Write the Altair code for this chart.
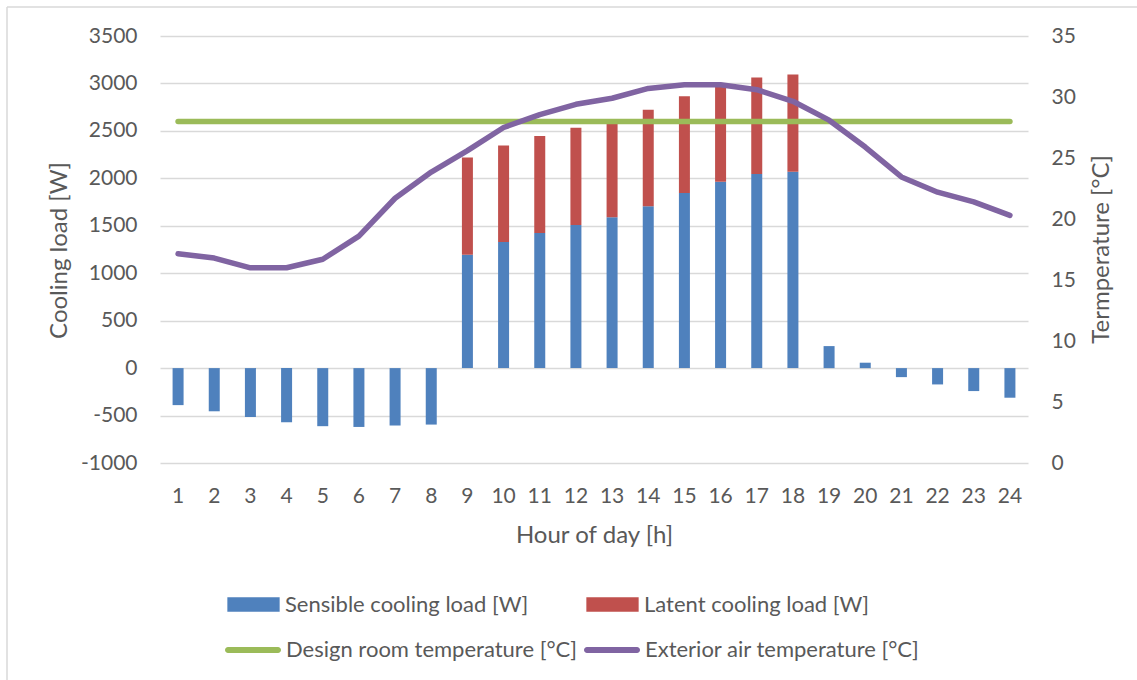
import altair as alt
import pandas as pd

# ---- data ----
hours = list(range(1, 25))
sensible = [-390, -455, -515, -570, -612, -620, -605, -595,
            1195, 1330, 1425, 1507, 1590, 1705, 1845, 1965, 2045, 2070,
            232, 57, -95, -172, -242, -312]
latent = [0, 0, 0, 0, 0, 0, 0, 0,
          1025, 1017, 1020, 1026, 1000, 1018, 1021, 1020, 1018, 1025,
          0, 0, 0, 0, 0, 0]
exterior = [17.15, 16.8, 16.0, 16.0, 16.7, 18.6, 21.7, 23.85, 25.6, 27.5,
            28.55, 29.4, 29.9, 30.7, 31.0, 31.0, 30.6, 29.65, 28.1, 25.9,
            23.45, 22.2, 21.4, 20.3]
design = [28] * 24

series_names = ["Sensible cooling load [W]", "Latent cooling load [W]",
                "Design room temperature [°C]", "Exterior air temperature [°C]"]
series_colors = ["#4F81BD", "#C0504D", "#9BBB59", "#8064A2"]
left_ticks = list(range(-1000, 3501, 500))
right_ticks = list(range(0, 36, 5))

df = pd.DataFrame({
    "hour": hours,
    "sensible": sensible,
    "latent": latent,
    "total": [s + l for s, l in zip(sensible, latent)],
    "exterior": exterior,
    "design": design,
    "s_name": series_names[0],
    "l_name": series_names[1],
    "d_name": series_names[2],
    "e_name": series_names[3],
})

FONT = "Lato"
TXT = "#595959"

x_enc = alt.X("hour:O", scale=alt.Scale(paddingInner=0, paddingOuter=0),
              axis=alt.Axis(labelAngle=0, title="Hour of day [h]",
                            labelBaseline="alphabetic", labelPadding=39,
                            titleX=434, titleY=79, titleBaseline="alphabetic",
                            titleAnchor="middle"))

left_scale = alt.Scale(domain=[-1000, 3500], nice=False, zero=False)
right_scale = alt.Scale(domain=[0, 35], nice=False, zero=False)

rect_path = "M-1,-0.2734L1,-0.2734L1,0.2734L-1,0.2734Z"
pill_path = ("M-0.893,-0.107L0.893,-0.107A0.107,0.107 0 0 1 0.893,0.107"
             "L-0.893,0.107A0.107,0.107 0 0 1 -0.893,-0.107Z")


def legend(lx, ly, path, size, fillcolor=None):
    kw = dict(orient="none", legendX=lx, legendY=ly, title=None, padding=0,
              symbolType=path, symbolSize=size, labelOffset=5,
              labelFont=FONT, labelFontSize=22, labelColor=TXT, labelLimit=600,
              symbolStrokeWidth=0)
    if fillcolor:
        kw["symbolFillColor"] = fillcolor
    return alt.Legend(**kw)


base = alt.Chart(df)

bars_s = base.mark_bar(size=11).encode(
    x=x_enc,
    y=alt.Y("sensible:Q", scale=left_scale,
            axis=alt.Axis(values=left_ticks, grid=True, labelPadding=23,
                          labelExpr="datum.value + ''",
                          title="Cooling load [W]", titleAngle=270,
                          titleX=-94, titleY=214, titleBaseline="alphabetic",
                          titleAnchor="middle")),
    fill=alt.Fill("s_name:N", scale=alt.Scale(domain=[series_names[0]], range=[series_colors[0]]),
                  legend=legend(67, 542, rect_path, 2735)),
)

bars_l = base.transform_filter("datum.latent > 0").mark_bar(size=11).encode(
    x=x_enc,
    y=alt.Y("sensible:Q", scale=left_scale, axis=None),
    y2="total:Q",
    fill=alt.Fill("l_name:N", scale=alt.Scale(domain=[series_names[1]], range=[series_colors[1]]),
                  legend=legend(426, 542, rect_path, 2735)),
)

line_d = base.mark_line(strokeWidth=5.5, strokeCap="round", strokeJoin="round").encode(
    x=x_enc,
    y=alt.Y("design:Q", scale=right_scale,
            axis=alt.Axis(orient="right", values=right_ticks, grid=False, labelPadding=23,
                          labelAlign="left",
                          title="Termperature [°C]", titleAngle=270,
                          titleX=80, titleY=213, titleBaseline="alphabetic",
                          titleAnchor="middle")),
    stroke=alt.Stroke("d_name:N", scale=alt.Scale(domain=[series_names[2]], range=[series_colors[2]]),
                      legend=legend(65, 586, pill_path, 3136, series_colors[2])),
)

line_e = base.mark_line(strokeWidth=5.5, strokeCap="round", strokeJoin="round").encode(
    x=x_enc,
    y=alt.Y("exterior:Q", scale=right_scale, axis=None),
    stroke=alt.Stroke("e_name:N", scale=alt.Scale(domain=[series_names[3]], range=[series_colors[3]]),
                      legend=legend(424, 586, pill_path, 3136, series_colors[3])),
)

frame = alt.Chart(alt.Data(values=[{"f": 1}])).mark_rule(color="#d9d9d9", strokeWidth=1.5)
frame_top = frame.encode(x=alt.value(-153), x2=alt.value(990), y=alt.value(-29))
frame_left = frame.encode(x=alt.value(-153), y=alt.value(-29), y2=alt.value(660))

chart = alt.layer(frame_top, frame_left, bars_s, bars_l, line_d, line_e).resolve_scale(
    y="independent", fill="independent", stroke="independent"
).properties(
    width=868, height=427,
    autosize=alt.AutoSizeParams(type="none"),
    padding={"left": 160, "top": 36, "right": 109, "bottom": 217},
    background="white",
).configure_view(stroke=None).configure_axis(
    labelFont=FONT, labelFontSize=21, labelColor=TXT,
    titleFont=FONT, titleFontSize=24, titleColor=TXT, titleFontWeight="normal",
    gridColor="#d9d9d9", gridWidth=1.4, domain=False, ticks=False, tickSize=0,
)

chart.save("out.html", embed_options={"renderer": "svg", "actions": False})
